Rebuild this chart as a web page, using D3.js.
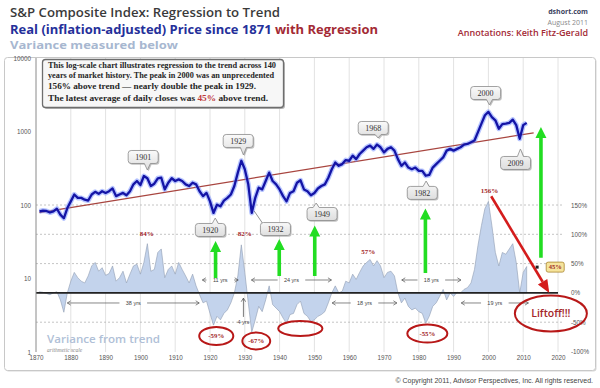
<!DOCTYPE html>
<html>
<head>
<meta charset="utf-8">
<script src="https://cdn.jsdelivr.net/npm/d3@7"></script>
<style>
  body { margin: 0; background: #fff; }
  svg { display: block; font-family: "Open Sans", sans-serif; }
</style>
</head>
<body>
<svg width="600" height="388"></svg>
<script>
// ---- data ----
var years = d3.range(1871, 2012);

// real S&P composite, yearly (log scale)
var priceValues = [
  82, 84, 83, 79, 82, 89, 74, 66, 91, 112,
  139, 125, 125, 118, 115, 139, 151, 142, 154, 146,
  154, 168, 132, 139, 146, 136, 154, 191, 212, 187,
  248, 231, 181, 195, 231, 235, 163, 201, 231, 212,
  223, 212, 191, 181, 201, 191, 154, 132, 146, 112,
  78, 101, 96, 115, 125, 139, 181, 276, 400, 307,
  191, 78, 125, 172, 163, 212, 276, 212, 191, 163,
  132, 112, 146, 154, 201, 217, 163, 154, 136, 146,
  168, 181, 191, 235, 307, 379, 341, 360, 408, 400,
  469, 421, 494, 549, 610, 643, 580, 664, 610, 520,
  580, 610, 549, 421, 341, 379, 323, 307, 323, 291,
  291, 250, 256, 323, 360, 400, 444, 549, 580, 549,
  580, 610, 664, 678, 716, 754, 982, 1280, 1665, 1850,
  1570, 1420, 1090, 1260, 1280, 1310, 1450, 1220, 795, 1220,
  1310
];

// variance from trend (fraction)
var varianceValues = [
  0.02, 0.01, -0.01, -0.03, 0.0, 0.02, -0.12, -0.33, 0.0, 0.20,
  0.35, 0.26, 0.20, 0.17, 0.29, 0.46, 0.52, 0.37, 0.43, 0.30,
  0.33, 0.46, 0.20, 0.26, 0.37, 0.17, 0.32, 0.46, 0.49, 0.32,
  0.52, 0.84, 0.37, 0.40, 0.69, 0.75, 0.26, 0.40, 0.46, 0.32,
  0.52, 0.40, 0.29, 0.17, 0.32, 0.12, -0.03, -0.17, -0.14, -0.35,
  -0.55, -0.40, -0.46, -0.35, -0.29, -0.17, 0.0, 0.29, 0.82, 0.35,
  -0.17, -0.67, -0.46, -0.23, -0.32, -0.12, 0.12, -0.20, -0.26, -0.32,
  -0.43, -0.52, -0.37, -0.35, -0.20, -0.14, -0.35, -0.40, -0.49, -0.46,
  -0.40, -0.37, -0.32, -0.17, 0.0, 0.12, 0.0, 0.03, 0.20, 0.17,
  0.32, 0.23, 0.35, 0.46, 0.52, 0.57, 0.46, 0.55, 0.46, 0.26,
  0.35, 0.37, 0.29, 0.0, -0.17, -0.09, -0.23, -0.29, -0.26, -0.32,
  -0.35, -0.52, -0.40, -0.23, -0.17, -0.06, 0.06, -0.12, 0.0, -0.06,
  0.01, 0.0, 0.06, 0.09, 0.17, 0.40, 0.81, 1.15, 1.44, 1.56,
  1.15, 0.69, 0.46, 0.69, 0.66, 0.75, 0.84, 0.52, 0.0, 0.35,
  0.45
];

var trendYears = [1871, 2013];
var trendValues = [79, 960];

var leftTicks = [1, 10, 100, 1000, 10000];
var rightTicks = [-1, -0.5, 0, 0.5, 1, 1.5];
var gridPcts = [1.5, 1, 0.5, -0.5];
var decadeTicks = d3.range(1870, 2021, 10);

// annotations, in data units
var callouts = [
  {label: "1901", year: 1900.8, value: 450, tipYear: 1902.0, tipValue: 299, tail: "down"},
  {label: "1929", year: 1928.1, value: 743, tipYear: 1929.6, tipValue: 479, tail: "down"},
  {label: "1968", year: 1966.9, value: 1116, tipYear: 1968.3, tipValue: 816, tail: "down"},
  {label: "2000", year: 1999.2, value: 3340, tipYear: 2000.3, tipValue: 2294, tail: "down"},
  {label: "2009", year: 2007.8, value: 373, tipYear: 2009.2, tipValue: 578, tail: "up"},
  {label: "1920", year: 1920.1, value: 45.7, tipYear: 1921.5, tipValue: 66.5, tail: "up"},
  {label: "1932", year: 1938.8, value: 47.1, tipYear: 1932.7, tipValue: 82.8, tail: "leader"},
  {label: "1949", year: 1952.2, value: 75.4, tipYear: 1950.5, tipValue: 106.4, tail: "up"},
  {label: "1982", year: 1981.0, value: 146, tipYear: 1982.1, tipValue: 212, tail: "up"}
];

var pctLabels = [
  {text: "84%", year: 1901.8, v: 1.005},
  {text: "82%", year: 1930.0, v: 1.005},
  {text: "57%", year: 1965.5, v: 0.707},
  {text: "156%", year: 2000.3, v: 1.74}
];

var greenArrows = [
  {year: 1921.6, from: 0.254, to: 0.886},
  {year: 1939.9, from: 0.288, to: 0.92},
  {year: 1950.1, from: 0.288, to: 1.15},
  {year: 1981.9, from: 0.34, to: 1.44},
  {year: 2015.1, from: 0.60, to: 2.83}
];

var spans = [
  {text: "11 yrs", start: 1917.8, end: 1928.1, v: 0.22},
  {text: "24 yrs", start: 1931.9, end: 1954.9, v: 0.22},
  {text: "18 yrs", start: 1975.1, end: 1992.1, v: 0.22},
  {text: "38 yrs", start: 1879.0, end: 1916.9, v: -0.172},
  {text: "18 yrs", start: 1955.1, end: 1973.7, v: -0.172},
  {text: "19 yrs", start: 1992.2, end: 2011.5, v: -0.172}
];

var ovals = [
  {text: "-59%", y0: 1916.9, y1: 1926.7, v0: -0.582, v1: -0.889},
  {text: "-67%", y0: 1929.3, y1: 1937.3, v0: -0.676, v1: -0.966},
  {text: "", y0: 1939.6, y1: 1952.3, v0: -0.481, v1: -0.737},
  {text: "-55%", y0: 1976.7, y1: 1988.2, v0: -0.541, v1: -0.848},
  {text: "Liftoff!!!", y0: 2007.6, y1: 2028.3, v0: -0.044, v1: -0.659}
];

var redArrow = {year0: 2000.8, v0: 1.65, year1: 2017.5, v1: 0};
var latest = {text: "45%", year: 2014.0, tagYear: 2019.2, v: 0.44};

// ---- scales ----
var svg = d3.select("svg");
var x = d3.scaleLinear().domain([1870, 2020]).range([36, 558]);
var yP = d3.scaleLog().domain([1, 10000]).range([352, 58]);
var yV = d3.scaleLinear().domain([-1, 1.5]).range([351.5, 205]);

var red = "#a3262a";

// outer frame
svg.append("rect").attr("x", 5.5).attr("y", 58.5).attr("width", 591).attr("height", 313)
    .attr("rx", 3).attr("fill", "#d8d8d8");
svg.append("rect").attr("x", 4.5).attr("y", 57.5).attr("width", 591).attr("height", 313)
    .attr("rx", 3).attr("fill", "#fff").attr("stroke", "#c8c8c8").attr("stroke-width", 1);

// header
var head = svg.append("g");
head.append("text").attr("x", 10).attr("y", 17)
    .attr("font-size", 12.5).attr("font-weight", 600).attr("fill", "#3a3a3a")
    .attr("textLength", 270).attr("lengthAdjust", "spacingAndGlyphs")
    .text("S&P Composite Index: Regression to Trend");
var t2 = head.append("text").attr("x", 10).attr("y", 34)
    .attr("font-size", 12.5).attr("font-weight", 700)
    .attr("textLength", 368).attr("lengthAdjust", "spacingAndGlyphs");
t2.append("tspan").attr("fill", "#25309a").text("Real (inflation-adjusted) Price since 1871 ");
t2.append("tspan").attr("fill", "#a32a35").text("with Regression");
head.append("text").attr("x", 10).attr("y", 49)
    .attr("font-size", 11).attr("font-weight", 700).attr("fill", "#a7b7d0")
    .attr("textLength", 168).attr("lengthAdjust", "spacingAndGlyphs")
    .text("Variance measured below");
head.append("text").attr("x", 588).attr("y", 14).attr("text-anchor", "end")
    .attr("font-size", 7).attr("font-weight", 700).attr("fill", "#3c4260")
    .text("dshort.com");
head.append("text").attr("x", 588).attr("y", 24.5).attr("text-anchor", "end")
    .attr("font-size", 7).attr("fill", "#8a8a8a")
    .text("August 2011");
head.append("text").attr("x", 588).attr("y", 35.5).attr("text-anchor", "end")
    .attr("font-size", 9).attr("font-weight", 600).attr("fill", "#a32a35")
    .text("Annotations: Keith Fitz-Gerald");

// grid
var grid = svg.append("g");
grid.selectAll(".vg").data(decadeTicks.slice(1)).enter().append("line")
    .attr("x1", function(d) { return x(d); }).attr("x2", function(d) { return x(d); })
    .attr("y1", 58).attr("y2", 352)
    .attr("stroke", "#e2e2e2").attr("stroke-width", 1);
grid.selectAll(".hg").data(gridPcts).enter().append("line")
    .attr("x1", 36).attr("x2", 562)
    .attr("y1", function(d) { return yV(d); }).attr("y2", function(d) { return yV(d); })
    .attr("stroke", "#b5b5b5").attr("stroke-width", 0.8).attr("stroke-dasharray", "2,2");

// variance area
var vdata = years.map(function(yr, i) { return {yr: yr, v: varianceValues[i]}; });
svg.append("path").datum(vdata)
    .attr("d", d3.area().x(function(d) { return x(d.yr); })
        .y0(yV(0)).y1(function(d) { return yV(d.v); }))
    .attr("fill", "#c3d3ec").attr("stroke", "#8e9cb2").attr("stroke-width", 0.6);

// zero line
svg.append("line").attr("x1", 36).attr("x2", 558)
    .attr("y1", yV(0)).attr("y2", yV(0))
    .attr("stroke", "#222").attr("stroke-width", 1.6);

// left axis line
svg.append("line").attr("x1", 36).attr("x2", 36).attr("y1", 58).attr("y2", 352)
    .attr("stroke", "#8a8a8a").attr("stroke-width", 1);

// axes
var axL = svg.append("g").attr("transform", "translate(31,0)")
    .call(d3.axisLeft(yP).tickValues(leftTicks).tickFormat(d3.format("d")).tickSize(0).tickPadding(0));
var axR = svg.append("g").attr("transform", "translate(571,0)")
    .call(d3.axisRight(yV).tickValues(rightTicks)
      .tickFormat(function(d) { return Math.round(d * 100) + "%"; }).tickSize(0).tickPadding(0));
var axB = svg.append("g").attr("transform", "translate(0,356)")
    .call(d3.axisBottom(x).tickValues(decadeTicks).tickFormat(d3.format("d")).tickSize(0).tickPadding(0));
[axL, axR, axB].forEach(function(a) {
  a.select(".domain").remove();
  a.selectAll("text").attr("font-size", 6.3).attr("fill", "#555")
      .attr("font-family", "Liberation Sans, sans-serif");
});

// trend line
svg.append("path").datum(trendYears.map(function(yr, i) { return {yr: yr, v: trendValues[i]}; }))
    .attr("d", d3.line().x(function(d) { return x(d.yr); }).y(function(d) { return yP(d.v); }))
    .attr("fill", "none").attr("stroke", "#a8453f").attr("stroke-width", 1.3);

// price line
var pdata = years.map(function(yr, i) { return {yr: yr, v: priceValues[i]}; });
var pline = d3.line().x(function(d) { return x(d.yr); }).y(function(d) { return yP(d.v); });
svg.append("path").datum(pdata).attr("d", pline)
    .attr("fill", "none").attr("stroke", "#6f8cff").attr("stroke-opacity", 0.5)
    .attr("stroke-width", 5).attr("stroke-linejoin", "round");
svg.append("path").datum(pdata).attr("d", pline)
    .attr("fill", "none").attr("stroke", "#1414a6")
    .attr("stroke-width", 2.3).attr("stroke-linejoin", "round");

// text box
var box = svg.append("g");
box.append("rect").attr("x", 44).attr("y", 61).attr("width", 241).attr("height", 48)
    .attr("rx", 3).attr("fill", "#b8b8b8");
box.append("rect").attr("x", 42.5).attr("y", 59.5).attr("width", 241).attr("height", 48)
    .attr("rx", 3).attr("fill", "#f7f7f7").attr("stroke", "#6e6e6e").attr("stroke-width", 1.3);
var boxLines = [
  {t: "This log-scale chart illustrates regression to the trend across 140", w: 228},
  {t: "years of market history. The peak in 2000 was an unprecedented", w: 226},
  {t: "156% above trend \u2014 nearly double the peak in 1929.", w: 208}
];
box.selectAll(".bl").data(boxLines).enter().append("text")
    .attr("x", 48).attr("y", function(d, i) { return 67.5 + i * 10.5; })
    .attr("font-family", "Liberation Serif, serif").attr("font-size", 7.4)
    .attr("font-weight", 700).attr("fill", "#262626")
    .attr("textLength", function(d) { return d.w; }).attr("lengthAdjust", "spacingAndGlyphs")
    .text(function(d) { return d.t; });
var bl4 = box.append("text").attr("x", 48).attr("y", 101)
    .attr("font-family", "Liberation Serif, serif").attr("font-size", 7.4)
    .attr("font-weight", 700).attr("fill", "#262626")
    .attr("textLength", 220).attr("lengthAdjust", "spacingAndGlyphs");
bl4.append("tspan").text("The latest average of daily closes was ");
bl4.append("tspan").attr("fill", "#c0393b").text("45%");
bl4.append("tspan").text(" above trend.");

// callouts
function calloutPath(cx, cy, tx, ty, tail) {
  var w = 30, h = 13, r = 3;
  var x0 = cx - w / 2, x1 = cx + w / 2, y0 = cy - h / 2, y1 = cy + h / 2;
  var bx = Math.max(x0 + r + 4, Math.min(x1 - r - 4, tx));
  var p = "M" + (x0 + r) + "," + y0;
  if (tail === "up") p += "H" + (bx - 3) + "L" + tx + "," + ty + "L" + (bx + 3) + "," + y0;
  p += "H" + (x1 - r) + "Q" + x1 + "," + y0 + " " + x1 + "," + (y0 + r);
  p += "V" + (y1 - r) + "Q" + x1 + "," + y1 + " " + (x1 - r) + "," + y1;
  if (tail === "down") p += "H" + (bx + 3) + "L" + tx + "," + ty + "L" + (bx - 3) + "," + y1;
  p += "H" + (x0 + r) + "Q" + x0 + "," + y1 + " " + x0 + "," + (y1 - r);
  p += "V" + (y0 + r) + "Q" + x0 + "," + y0 + " " + (x0 + r) + "," + y0 + "Z";
  return p;
}
var defs = svg.append("defs");
var grad = defs.append("linearGradient").attr("id", "cg").attr("x1", 0).attr("x2", 0).attr("y1", 0).attr("y2", 1);
grad.append("stop").attr("offset", 0).attr("stop-color", "#fafafa");
grad.append("stop").attr("offset", 1).attr("stop-color", "#dedede");

var cg = svg.append("g").selectAll("g").data(callouts).enter().append("g");
cg.each(function(d) {
  var g = d3.select(this);
  var cx = x(d.year), cy = yP(d.value), tx = x(d.tipYear), ty = yP(d.tipValue);
  if (d.tail === "leader") {
    g.append("line").attr("x1", tx).attr("y1", ty).attr("x2", cx - 13).attr("y2", cy - 6)
        .attr("stroke", "#777").attr("stroke-width", 0.8);
  }
  var pth = calloutPath(cx, cy, tx, ty, d.tail);
  g.append("path").attr("d", pth).attr("transform", "translate(1.2,1.2)")
      .attr("fill", "#9a9a9a").attr("opacity", 0.6);
  g.append("path").attr("d", pth).attr("fill", "url(#cg)")
      .attr("stroke", "#8a8a8a").attr("stroke-width", 0.8);
  g.append("text").attr("x", cx).attr("y", cy + 2.8).attr("text-anchor", "middle")
      .attr("font-family", "Liberation Serif, serif").attr("font-size", 8)
      .attr("fill", "#333").text(d.label);
});

// green arrows
svg.append("g").selectAll("path").data(greenArrows).enter().append("path")
    .attr("d", function(d) {
      var ax = x(d.year), yb = yV(d.from), yt = yV(d.to);
      return "M" + (ax - 1.8) + "," + yb + "V" + (yt + 11) + "H" + (ax - 5.5) +
        "L" + ax + "," + yt + "L" + (ax + 5.5) + "," + (yt + 11) + "H" + (ax + 1.8) + "V" + yb + "Z";
    })
    .attr("fill", "#22dd22");

// span arrows
var sg = svg.append("g").selectAll("g").data(spans).enter().append("g");
sg.each(function(d) {
  var g = d3.select(this);
  var xa = x(d.start), xb = x(d.end), yy = yV(d.v), xm = (xa + xb) / 2;
  var gap = d.text.length * 1.8 + 3;
  [[xa, xm - gap], [xm + gap, xb]].forEach(function(s) {
    g.append("line").attr("x1", s[0]).attr("x2", s[1]).attr("y1", yy).attr("y2", yy)
        .attr("stroke", "#555").attr("stroke-width", 0.7);
  });
  g.append("path").attr("d", "M" + (xa + 3.5) + "," + (yy - 2.2) + "L" + xa + "," + yy + "L" + (xa + 3.5) + "," + (yy + 2.2) +
      "M" + (xb - 3.5) + "," + (yy - 2.2) + "L" + xb + "," + yy + "L" + (xb - 3.5) + "," + (yy + 2.2))
      .attr("fill", "none").attr("stroke", "#555").attr("stroke-width", 0.7);
  g.append("text").attr("x", xm).attr("y", yy + 2).attr("text-anchor", "middle")
      .attr("font-family", "Liberation Sans, sans-serif").attr("font-size", 5.5).attr("fill", "#444")
      .text(d.text);
});

// 4 yrs marker
var fx = x(1929.6);
svg.append("path").attr("d", "M" + fx + "," + yV(-0.41) + "V" + yV(-0.09) +
    "M" + (fx - 2.2) + "," + (yV(-0.09) + 3.5) + "L" + fx + "," + yV(-0.09) + "L" + (fx + 2.2) + "," + (yV(-0.09) + 3.5))
    .attr("fill", "none").attr("stroke", "#444").attr("stroke-width", 0.7);
svg.append("text").attr("x", fx).attr("y", yV(-0.5) + 2).attr("text-anchor", "middle")
    .attr("font-family", "Liberation Sans, sans-serif").attr("font-size", 5.5).attr("fill", "#444")
    .text("4 yrs");

// percentage labels
svg.append("g").selectAll("text").data(pctLabels).enter().append("text")
    .attr("x", function(d) { return x(d.year); }).attr("y", function(d) { return yV(d.v) + 2.3; })
    .attr("text-anchor", "middle").attr("font-family", "Liberation Serif, serif")
    .attr("font-size", 7).attr("font-weight", 700).attr("fill", red)
    .text(function(d) { return d.text; });

// red arrow
(function() {
  var x0 = x(redArrow.year0), y0 = yV(redArrow.v0), x1 = x(redArrow.year1), y1 = yV(redArrow.v1);
  var ang = Math.atan2(y1 - y0, x1 - x0), L = 13, W = 5.5;
  var bxp = x1 - L * Math.cos(ang), byp = y1 - L * Math.sin(ang);
  svg.append("line").attr("x1", x0).attr("y1", y0).attr("x2", bxp).attr("y2", byp)
      .attr("stroke", "#d41c1c").attr("stroke-width", 2.6);
  svg.append("path").attr("d", "M" + x1 + "," + y1 +
      "L" + (bxp + W * Math.sin(ang)) + "," + (byp - W * Math.cos(ang)) +
      "L" + (bxp - W * Math.sin(ang)) + "," + (byp + W * Math.cos(ang)) + "Z")
      .attr("fill", "#d41c1c");
})();

// ovals
var og = svg.append("g").selectAll("g").data(ovals).enter().append("g");
og.each(function(d) {
  var g = d3.select(this);
  var xa = x(d.y0), xb = x(d.y1), ya = yV(d.v0), yb = yV(d.v1);
  var cx = (xa + xb) / 2, cy = (ya + yb) / 2;
  g.append("ellipse").attr("cx", cx).attr("cy", cy)
      .attr("rx", (xb - xa) / 2).attr("ry", (yb - ya) / 2)
      .attr("fill", "none").attr("stroke", "#b81818").attr("stroke-width", 2);
  var big = d.text.length > 5;
  g.append("text").attr("x", cx).attr("y", cy + (big ? 3.5 : 2.3)).attr("text-anchor", "middle")
      .attr("font-family", big ? "Open Sans, sans-serif" : "Liberation Serif, serif")
      .attr("font-size", big ? 10.5 : 6.8).attr("font-weight", big ? 600 : 700)
      .attr("fill", red).text(d.text);
});

// latest value tag
var lx = x(latest.year), ly = yV(latest.v), tagx = x(latest.tagYear);
svg.append("rect").attr("x", lx - 1.5).attr("y", ly - 1.5).attr("width", 3).attr("height", 3).attr("fill", "#222");
svg.append("rect").attr("x", tagx - 9).attr("y", ly - 5).attr("width", 18).attr("height", 10).attr("rx", 2)
    .attr("fill", "#f6e49c").attr("stroke", "#a8842c").attr("stroke-width", 0.8);
svg.append("text").attr("x", tagx).attr("y", ly + 2.2).attr("text-anchor", "middle")
    .attr("font-family", "Liberation Serif, serif").attr("font-size", 6.5).attr("font-weight", 700)
    .attr("fill", "#a0302a").text(latest.text);

// lower-left captions
svg.append("text").attr("x", 47).attr("y", 343)
    .attr("font-size", 11.5).attr("font-weight", 600).attr("fill", "#b0bfd7")
    .attr("textLength", 113).attr("lengthAdjust", "spacingAndGlyphs")
    .text("Variance from trend");
svg.append("text").attr("x", 47).attr("y", 351.5)
    .attr("font-family", "Liberation Serif, serif").attr("font-size", 5.5).attr("font-style", "italic")
    .attr("fill", "#888").text("arithmetic scale");

// copyright
svg.append("text").attr("x", 593).attr("y", 383).attr("text-anchor", "end")
    .attr("font-family", "Liberation Sans, sans-serif").attr("font-size", 7).attr("fill", "#444")
    .text("\u00a9 Copyright 2011, Advisor Perspectives, Inc. All rights reserved.");
</script>
</body>
</html>
